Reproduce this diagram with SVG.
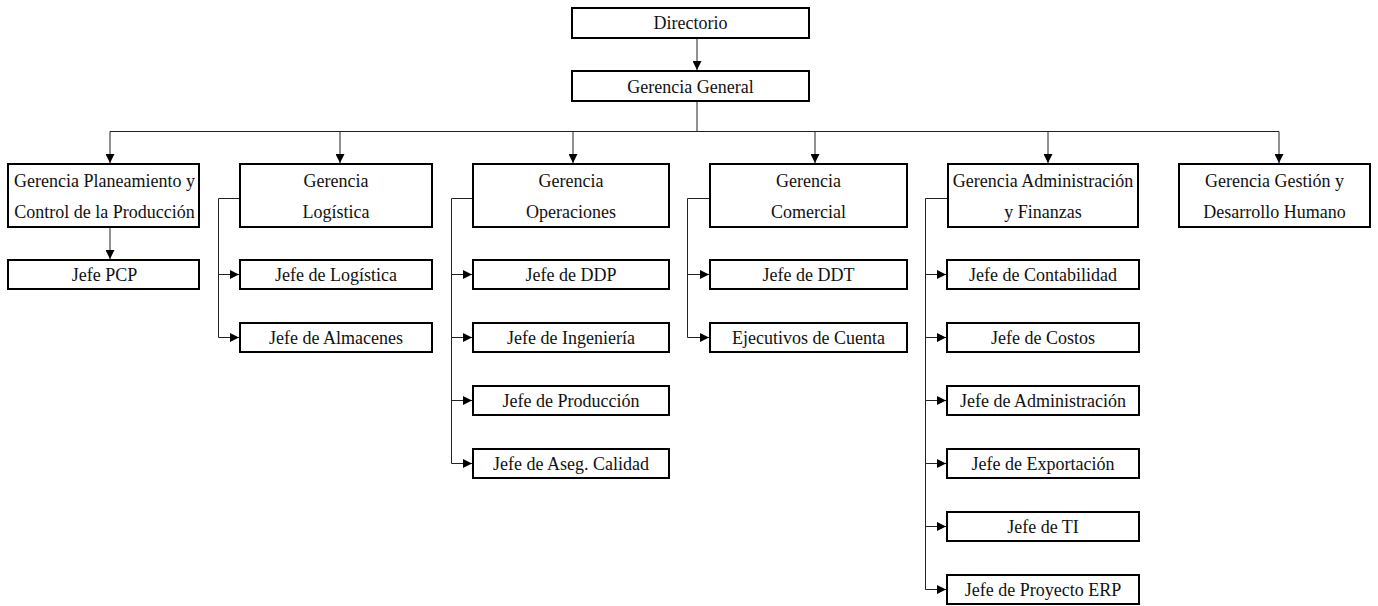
<svg xmlns="http://www.w3.org/2000/svg" width="1378" height="606" viewBox="0 0 1378 606">
<defs>
<marker id="arr" viewBox="0 0 10 10" refX="10" refY="5" markerWidth="10" markerHeight="9" markerUnits="userSpaceOnUse" orient="auto">
<path d="M0,0 L10,5 L0,10 z" fill="#000"/>
</marker>
<style>
.box{fill:#fff;stroke:#000;stroke-width:2}
.t{font-family:"Liberation Serif","Times New Roman",serif;font-size:18px;fill:#111;text-anchor:middle}
.c{fill:none;stroke:#222;stroke-width:1}
.a{fill:none;stroke:#222;stroke-width:1;marker-end:url(#arr)}
</style>
</defs>
<rect width="1378" height="606" fill="#fff"/>
<g id="connectors">
<line class="a" x1="697" y1="39" x2="697" y2="70"/>
<line class="c" x1="697" y1="102" x2="697" y2="131.5"/>
<line class="c" x1="110" y1="131.5" x2="1279" y2="131.5"/>
<line class="a" x1="110" y1="131.5" x2="110" y2="163"/>
<line class="a" x1="340" y1="131.5" x2="340" y2="163"/>
<line class="a" x1="573" y1="131.5" x2="573" y2="163"/>
<line class="a" x1="815" y1="131.5" x2="815" y2="163"/>
<line class="a" x1="1048" y1="131.5" x2="1048" y2="163"/>
<line class="a" x1="1279" y1="131.5" x2="1279" y2="163"/>
<line class="a" x1="110" y1="228" x2="110" y2="259"/>
<path class="c" d="M239,198.5 H218.5 V337.5"/>
<line class="a" x1="218.5" y1="274.5" x2="239" y2="274.5"/>
<line class="a" x1="218.5" y1="337.5" x2="239" y2="337.5"/>
<path class="c" d="M472,198.5 H451.5 V463.5"/>
<line class="a" x1="451.5" y1="274.5" x2="472" y2="274.5"/>
<line class="a" x1="451.5" y1="337.5" x2="472" y2="337.5"/>
<line class="a" x1="451.5" y1="400.5" x2="472" y2="400.5"/>
<line class="a" x1="451.5" y1="463.5" x2="472" y2="463.5"/>
<path class="c" d="M709,198.5 H687.5 V337.5"/>
<line class="a" x1="687.5" y1="274.5" x2="709" y2="274.5"/>
<line class="a" x1="687.5" y1="337.5" x2="709" y2="337.5"/>
<path class="c" d="M947,198.5 H925.5 V589.5"/>
<line class="a" x1="925.5" y1="274.5" x2="946" y2="274.5"/>
<line class="a" x1="925.5" y1="337.5" x2="946" y2="337.5"/>
<line class="a" x1="925.5" y1="400.5" x2="946" y2="400.5"/>
<line class="a" x1="925.5" y1="463.5" x2="946" y2="463.5"/>
<line class="a" x1="925.5" y1="526.5" x2="946" y2="526.5"/>
<line class="a" x1="925.5" y1="589.5" x2="946" y2="589.5"/>
</g>
<g id="n-directorio"><rect class="box" x="572" y="8" width="237" height="30"/><text class="t" x="690.5" y="29">Directorio</text></g>
<g id="n-gerencia-general"><rect class="box" x="572" y="71" width="237" height="30"/><text class="t" x="690.5" y="93">Gerencia General</text></g>
<g id="n-gpcp"><rect class="box" x="8" y="164" width="191" height="63"/><text class="t" x="104.5" y="187">Gerencia Planeamiento y</text><text class="t" x="104.5" y="218">Control de la Producción</text></g>
<g id="n-glog"><rect class="box" x="240" y="164" width="192" height="63"/><text class="t" x="336" y="187">Gerencia</text><text class="t" x="336" y="218">Logística</text></g>
<g id="n-gop"><rect class="box" x="473" y="164" width="196" height="63"/><text class="t" x="571" y="187">Gerencia</text><text class="t" x="571" y="218">Operaciones</text></g>
<g id="n-gcom"><rect class="box" x="710" y="164" width="197" height="63"/><text class="t" x="808.5" y="187">Gerencia</text><text class="t" x="808.5" y="218">Comercial</text></g>
<g id="n-gaf"><rect class="box" x="948" y="164" width="190" height="63"/><text class="t" x="1043" y="187">Gerencia Administración</text><text class="t" x="1043" y="218">y Finanzas</text></g>
<g id="n-ggdh"><rect class="box" x="1179" y="164" width="191" height="63"/><text class="t" x="1274.5" y="187">Gerencia Gestión y</text><text class="t" x="1274.5" y="218">Desarrollo Humano</text></g>
<g id="n-jefe-pcp"><rect class="box" x="8" y="260" width="191" height="29"/><text class="t" x="104.5" y="281">Jefe PCP</text></g>
<g id="n-jefe-logistica"><rect class="box" x="240" y="260" width="192" height="29"/><text class="t" x="336" y="281">Jefe de Logística</text></g>
<g id="n-jefe-almacenes"><rect class="box" x="240" y="323" width="192" height="29"/><text class="t" x="336" y="344">Jefe de Almacenes</text></g>
<g id="n-jefe-ddp"><rect class="box" x="473" y="260" width="196" height="29"/><text class="t" x="571" y="281">Jefe de DDP</text></g>
<g id="n-jefe-ingenieria"><rect class="box" x="473" y="323" width="196" height="29"/><text class="t" x="571" y="344">Jefe de Ingeniería</text></g>
<g id="n-jefe-produccion"><rect class="box" x="473" y="386" width="196" height="29"/><text class="t" x="571" y="407">Jefe de Producción</text></g>
<g id="n-jefe-calidad"><rect class="box" x="473" y="449" width="196" height="29"/><text class="t" x="571" y="470">Jefe de Aseg. Calidad</text></g>
<g id="n-jefe-ddt"><rect class="box" x="710" y="260" width="197" height="29"/><text class="t" x="808.5" y="281">Jefe de DDT</text></g>
<g id="n-ejecutivos"><rect class="box" x="710" y="323" width="197" height="29"/><text class="t" x="808.5" y="344">Ejecutivos de Cuenta</text></g>
<g id="n-jefe-contabilidad"><rect class="box" x="947" y="260" width="192" height="29"/><text class="t" x="1043" y="281">Jefe de Contabilidad</text></g>
<g id="n-jefe-costos"><rect class="box" x="947" y="323" width="192" height="29"/><text class="t" x="1043" y="344">Jefe de Costos</text></g>
<g id="n-jefe-administracion"><rect class="box" x="947" y="386" width="192" height="29"/><text class="t" x="1043" y="407">Jefe de Administración</text></g>
<g id="n-jefe-exportacion"><rect class="box" x="947" y="449" width="192" height="29"/><text class="t" x="1043" y="470">Jefe de Exportación</text></g>
<g id="n-jefe-ti"><rect class="box" x="947" y="512" width="192" height="29"/><text class="t" x="1043" y="533">Jefe de TI</text></g>
<g id="n-jefe-erp"><rect class="box" x="947" y="575" width="192" height="29"/><text class="t" x="1043" y="596">Jefe de Proyecto ERP</text></g>
</svg>
